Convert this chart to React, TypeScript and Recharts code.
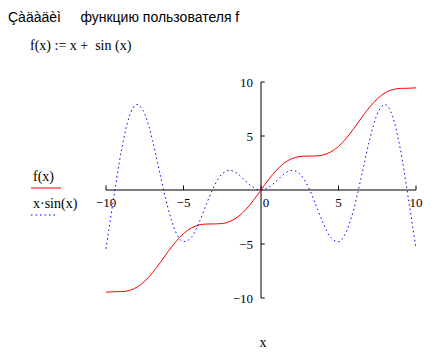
import { LineChart, Line, XAxis, YAxis, ReferenceLine, ReferenceDot } from "recharts";

const xs = [
  -10, -9.5, -9, -8.5, -8, -7.5, -7, -6.5, -6, -5.5, -5, -4.5, -4, -3.5, -3, -2.5, -2, -1.5, -1, -0.5,
  0, 0.5, 1, 1.5, 2, 2.5, 3, 3.5, 4, 4.5, 5, 5.5, 6, 6.5, 7, 7.5, 8, 8.5, 9, 9.5, 10,
];

// f(x) = x + sin(x)
const fVals = [
  -9.46, -9.42, -9.41, -9.3, -8.99, -8.44, -7.66, -6.72, -5.72, -4.79, -4.04, -3.52, -3.24, -3.15, -3.14, -3.1, -2.91, -2.5, -1.84, -0.98,
  0, 0.98, 1.84, 2.5, 2.91, 3.1, 3.14, 3.15, 3.24, 3.52, 4.04, 4.79, 5.72, 6.72, 7.66, 8.44, 8.99, 9.3, 9.41, 9.42, 9.46,
];

// x·sin(x)
const gVals = [
  -5.44, -0.71, 3.71, 6.78, 7.91, 7.04, 4.6, 1.4, -1.68, -3.88, -4.79, -4.4, -3.03, -1.23, 0.42, 1.5, 1.82, 1.5, 0.84, 0.24,
  0, 0.24, 0.84, 1.5, 1.82, 1.5, 0.42, -1.23, -3.03, -4.4, -4.79, -3.88, -1.68, 1.4, 4.6, 7.04, 7.91, 6.78, 3.71, -0.71, -5.44,
];

const xTicks = [-10, -5, 0, 5, 10];
const yTicks = [-10, -5, 5, 10];

const data = xs.map((x, i) => ({ x, f: fVals[i], g: gVals[i] }));

const serif = "'Liberation Serif', 'Times New Roman', serif";
const sans = "'Liberation Sans', Arial, sans-serif";

const fmt = (v: number) => (v < 0 ? `\u2212${Math.abs(v)}` : `${v}`);

export default function App() {
  return (
    <div style={{ position: "absolute", left: 0, top: 0, width: 447, height: 357, background: "#fff" }}>
      <LineChart
        width={447}
        height={357}
        data={data}
        margin={{ top: 82, right: 31, bottom: 59, left: 106 }}
      >
        <XAxis dataKey="x" type="number" domain={[-10, 10]} hide />
        <YAxis type="number" domain={[-10, 10]} hide />
        <ReferenceLine y={0} stroke="#000" strokeWidth={1} />
        <ReferenceLine x={0} stroke="#000" strokeWidth={1} />
        {xTicks.map((t) => (
          <ReferenceLine
            key={`xt${t}`}
            segment={[{ x: t, y: 0 }, { x: t, y: 0.42 }]}
            stroke="#000"
          />
        ))}
        {yTicks.map((t) => (
          <ReferenceLine
            key={`yt${t}`}
            segment={[{ x: 0, y: t }, { x: 0.24, y: t }]}
            stroke="#000"
          />
        ))}
        {xTicks.map((t) => (
          <ReferenceDot
            key={`xl${t}`}
            x={t}
            y={0}
            r={0}
            shape={(p: any) => (
              <text
                x={p.cx + (t === 0 ? 5 : 0)}
                y={p.cy + 17}
                textAnchor="middle"
                fontFamily={serif}
                fontSize={13}
                fill="#000"
              >
                {fmt(t)}
              </text>
            )}
          />
        ))}
        {yTicks.map((t) => (
          <ReferenceDot
            key={`yl${t}`}
            x={0}
            y={t}
            r={0}
            shape={(p: any) => (
              <text
                x={p.cx - 8}
                y={p.cy + 4.5}
                textAnchor="end"
                fontFamily={serif}
                fontSize={13}
                fill="#000"
              >
                {fmt(t)}
              </text>
            )}
          />
        ))}
        <Line
          type="monotone"
          dataKey="f"
          stroke="#ff0000"
          strokeWidth={1}
          dot={false}
          isAnimationActive={false}
        />
        <Line
          type="monotone"
          dataKey="g"
          stroke="#0000ff"
          strokeWidth={1}
          strokeDasharray="1.5 3"
          dot={false}
          isAnimationActive={false}
        />
      </LineChart>
      <svg
        width={447}
        height={357}
        style={{ position: "absolute", left: 0, top: 0, pointerEvents: "none" }}
      >
        <text x={8} y={22} fontFamily={sans} fontSize={14} fill="#000" style={{ whiteSpace: "pre" }}>
          {"Çàäàäèì     функцию пользователя f"}
        </text>
        <text x={30} y={50} fontFamily={serif} fontSize={14} fill="#000" style={{ whiteSpace: "pre" }}>
          {"f(x) := x +  sin (x)"}
        </text>
        <text x={33} y={181} fontFamily={serif} fontSize={14} fill="#000">
          f(x)
        </text>
        <line x1={31} y1={188} x2={61} y2={188} stroke="#ff0000" strokeWidth={1} />
        <text x={33} y={208} fontFamily={serif} fontSize={14} fill="#000" style={{ whiteSpace: "pre" }}>
          {"x\u00b7sin(x)"}
        </text>
        <line x1={31} y1={215} x2={57} y2={215} stroke="#0000ff" strokeWidth={1} strokeDasharray="1.5 3" />
        <text x={263} y={347} fontFamily={serif} fontSize={14} fill="#000" textAnchor="middle">
          x
        </text>
      </svg>
    </div>
  );
}
